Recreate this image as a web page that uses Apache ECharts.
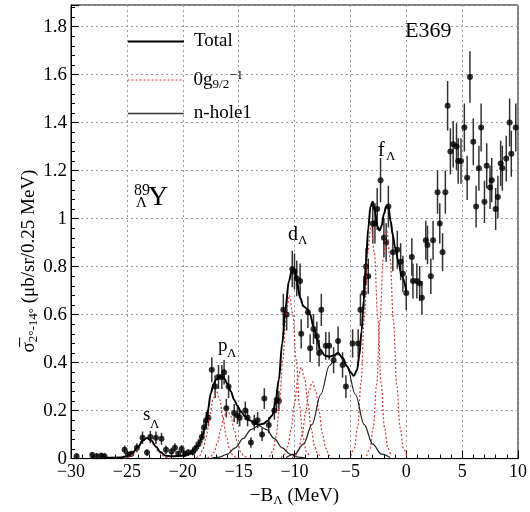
<!DOCTYPE html>
<html>
<head>
<meta charset="utf-8">
<script src="https://cdn.jsdelivr.net/npm/echarts@6/dist/echarts.min.js"></script>
<style>
  html, body { margin: 0; padding: 0; background: #fff; }
  #chart { width: 530px; height: 512px; }
</style>
</head>
<body>
<div id="chart"></div>
<script>
const FONT = 'Liberation Serif, Times New Roman, serif'

// measured spectrum: -B_Lambda (MeV), cross section, stat. error
const pointX = [
  -29.5, -28.1, -27.7, -27.3, -27.0, -25.2, -24.9, -24.6, -24.1, -23.6,
  -23.2, -22.9, -22.4, -21.9, -21.5, -21.0, -20.7, -20.4, -20.1, -19.8,
  -19.5, -19.1, -18.9, -18.6, -18.3, -18.1, -17.9, -17.7, -17.4, -17.1,
  -16.8, -16.5, -16.3, -16.1, -15.9, -15.4, -15.1, -14.9, -14.4, -14.2,
  -13.9, -13.6, -13.3, -12.9, -12.7, -12.3, -11.8, -11.6, -11.4, -11.0,
  -10.7, -10.2, -10.0, -9.8, -9.5, -9.4, -8.8, -8.6, -8.3, -8.0,
  -7.8, -7.6, -7.2, -6.9, -6.5, -6.1, -5.7, -5.4, -4.8, -4.3,
  -4.1, -3.8, -3.6, -3.4, -3.0, -2.8, -2.6, -2.3, -2.0, -1.8,
  -1.6, -1.2, -0.8, -0.5, -0.3, 0.0, 0.5, 0.6, 0.95, 1.2,
  1.4, 1.75, 1.9, 2.2, 2.4, 2.8, 3.0, 3.25, 3.5, 3.7,
  3.95, 4.2, 4.5, 4.65, 4.9, 5.2, 5.45, 5.7, 6.0, 6.25,
  6.5, 6.7, 7.0, 7.2, 7.5, 7.65, 8.0, 8.2, 8.45, 8.6,
  8.95, 9.25, 9.4, 9.8
]
const pointY = [
  0.010, 0.015, 0.010, 0.012, 0.010, 0.037, 0.017, 0.020, 0.045, 0.087,
  0.025, 0.090, 0.087, 0.083, 0.037, 0.030, 0.045, 0.020, 0.040, 0.020,
  0.025, 0.028, 0.040, 0.060, 0.090, 0.130, 0.160, 0.170, 0.370, 0.300,
  0.340, 0.340, 0.360, 0.210, 0.300, 0.190, 0.180, 0.170, 0.200, 0.170,
  0.067, 0.150, 0.160, 0.100, 0.250, 0.140, 0.200, 0.245, 0.240, 0.620,
  0.600, 0.790, 0.780, 0.750, 0.740, 0.520, 0.610, 0.460, 0.540, 0.510,
  0.440, 0.620, 0.470, 0.470, 0.410, 0.490, 0.390, 0.300, 0.480, 0.480,
  0.620, 0.690, 0.800, 0.760, 0.980, 0.980, 1.040, 1.160, 0.920, 0.900,
  1.050, 0.860, 0.870, 0.820, 0.770, 0.690, 0.840, 0.740, 0.740, 0.730,
  0.670, 0.910, 0.890, 0.760, 0.910, 1.110, 0.980, 0.860, 1.110, 1.470,
  1.280, 1.310, 1.300, 1.240, 1.240, 1.380, 1.170, 1.590, 1.320, 1.050,
  1.210, 1.380, 1.070, 1.220, 1.130, 1.160, 1.040, 1.090, 1.230, 1.210,
  1.250, 1.400, 1.270, 1.380
]
const pointErr = [
  0.012, 0.012, 0.012, 0.012, 0.012, 0.018, 0.012, 0.013, 0.019, 0.026,
  0.014, 0.026, 0.026, 0.025, 0.018, 0.015, 0.019, 0.013, 0.017, 0.013,
  0.014, 0.015, 0.017, 0.021, 0.026, 0.031, 0.034, 0.035, 0.052, 0.047,
  0.050, 0.050, 0.051, 0.039, 0.047, 0.037, 0.036, 0.035, 0.038, 0.035,
  0.022, 0.033, 0.034, 0.027, 0.043, 0.032, 0.038, 0.042, 0.042, 0.067,
  0.066, 0.076, 0.075, 0.074, 0.073, 0.061, 0.066, 0.058, 0.062, 0.061,
  0.056, 0.067, 0.058, 0.058, 0.054, 0.060, 0.053, 0.047, 0.059, 0.059,
  0.067, 0.071, 0.076, 0.074, 0.084, 0.084, 0.087, 0.092, 0.082, 0.081,
  0.087, 0.079, 0.079, 0.077, 0.075, 0.071, 0.078, 0.073, 0.073, 0.073,
  0.070, 0.081, 0.080, 0.074, 0.081, 0.090, 0.084, 0.079, 0.090, 0.103,
  0.096, 0.097, 0.097, 0.095, 0.095, 0.100, 0.092, 0.107, 0.098, 0.087,
  0.094, 0.100, 0.088, 0.094, 0.090, 0.092, 0.087, 0.089, 0.094, 0.094,
  0.095, 0.100, 0.096, 0.100
]

// fitted curves
const totalCurve = [
  [-27.0, 0.004], [-25.5, 0.005], [-25.0, 0.010], [-24.5, 0.025], [-24.0, 0.048],
  [-23.6, 0.075], [-23.2, 0.086], [-22.8, 0.075], [-22.4, 0.050], [-22.0, 0.027],
  [-21.5, 0.012], [-21.0, 0.010], [-20.0, 0.012], [-19.4, 0.020], [-19.0, 0.035],
  [-18.6, 0.058], [-18.3, 0.090], [-18.0, 0.130], [-17.75, 0.200], [-17.5, 0.270],
  [-17.25, 0.310], [-17.0, 0.330], [-16.6, 0.345], [-16.3, 0.335], [-16.0, 0.310],
  [-15.7, 0.280], [-15.4, 0.245], [-15.1, 0.220], [-14.8, 0.195], [-14.4, 0.175],
  [-14.0, 0.160], [-13.6, 0.148], [-13.2, 0.142], [-12.8, 0.145], [-12.4, 0.158],
  [-12.0, 0.180], [-11.7, 0.230], [-11.4, 0.330], [-11.1, 0.480], [-10.8, 0.630],
  [-10.5, 0.740], [-10.2, 0.790], [-10.0, 0.790], [-9.8, 0.740], [-9.5, 0.670],
  [-9.2, 0.635], [-8.9, 0.625], [-8.6, 0.600], [-8.3, 0.550], [-8.0, 0.500],
  [-7.7, 0.455], [-7.3, 0.430], [-6.9, 0.425], [-6.5, 0.430], [-6.1, 0.440],
  [-5.7, 0.420], [-5.3, 0.385], [-5.0, 0.360], [-4.7, 0.345], [-4.4, 0.370],
  [-4.2, 0.430], [-4.0, 0.530], [-3.8, 0.660], [-3.6, 0.820], [-3.4, 0.960],
  [-3.2, 1.050], [-3.0, 1.070], [-2.8, 1.030], [-2.6, 0.970], [-2.4, 0.950],
  [-2.2, 0.970], [-2.0, 1.020], [-1.8, 1.050], [-1.6, 1.050], [-1.4, 0.990],
  [-1.2, 0.930], [-1.0, 0.880], [-0.7, 0.820], [-0.4, 0.760], [0.0, 0.700]
]
const sCurve = [[-25.3, 0], [-24.95, 0.004], [-24.6, 0.012], [-24.25, 0.028], [-23.9, 0.052], [-23.55, 0.075], [-23.2, 0.085], [-22.85, 0.075], [-22.5, 0.052], [-22.15, 0.028], [-21.8, 0.012], [-21.45, 0.004], [-21.1, 0]]
const p1Curve = [[-18.8, 0.003], [-18.5, 0.012], [-18.2, 0.038], [-17.9, 0.091], [-17.6, 0.170], [-17.3, 0.247], [-17.0, 0.280], [-16.7, 0.247], [-16.4, 0.170], [-16.1, 0.091], [-15.8, 0.038], [-15.5, 0.012], [-15.2, 0.003]]
const p2Curve = [[-17.8, 0.002], [-17.5, 0.009], [-17.2, 0.027], [-16.9, 0.065], [-16.6, 0.121], [-16.3, 0.177], [-16.0, 0.200], [-15.7, 0.177], [-15.4, 0.121], [-15.1, 0.065], [-14.8, 0.027], [-14.5, 0.009], [-14.2, 0.002]]
const d1Curve = [[-12.25, 0.008], [-11.95, 0.030], [-11.65, 0.092], [-11.35, 0.221], [-11.05, 0.412], [-10.75, 0.600], [-10.45, 0.680], [-10.15, 0.600], [-9.85, 0.412], [-9.55, 0.221], [-9.25, 0.092], [-8.95, 0.030], [-8.65, 0.008]]
const d2Curve = [[-11.2, 0.004], [-10.9, 0.017], [-10.6, 0.051], [-10.3, 0.123], [-10.0, 0.230], [-9.7, 0.335], [-9.4, 0.380], [-9.1, 0.335], [-8.8, 0.230], [-8.5, 0.123], [-8.2, 0.051], [-7.9, 0.017], [-7.6, 0.004]]
const d3Curve = [[-10.2, 0.004], [-9.9, 0.014], [-9.6, 0.043], [-9.3, 0.104], [-9.0, 0.194], [-8.7, 0.282], [-8.4, 0.320], [-8.1, 0.282], [-7.8, 0.194], [-7.5, 0.104], [-7.2, 0.043], [-6.9, 0.014], [-6.6, 0.004]]
const f1Curve = [[-4.95, 0.011], [-4.65, 0.043], [-4.35, 0.131], [-4.05, 0.315], [-3.75, 0.588], [-3.45, 0.856], [-3.15, 0.970], [-2.85, 0.856], [-2.55, 0.588], [-2.25, 0.315], [-1.95, 0.131], [-1.65, 0.043], [-1.35, 0.011]]
const f2Curve = [[-3.55, 0.011], [-3.25, 0.042], [-2.95, 0.129], [-2.65, 0.308], [-2.35, 0.576], [-2.05, 0.838], [-1.75, 0.950], [-1.45, 0.838], [-1.15, 0.576], [-0.85, 0.308], [-0.55, 0.129], [-0.25, 0.042], [0.05, 0.011]]
const nHole1Curve = [[-17.4, 0.002], [-16.7, 0.006], [-16.0, 0.019], [-15.3, 0.045], [-14.6, 0.083], [-13.9, 0.121], [-13.2, 0.137], [-12.5, 0.121], [-11.8, 0.083], [-11.1, 0.045], [-10.4, 0.019], [-9.7, 0.006], [-9.0, 0.002]]
const nHole2Curve = [[-10.75, 0.005], [-9.975, 0.019], [-9.2, 0.060], [-8.425, 0.143], [-7.65, 0.267], [-6.875, 0.388], [-6.1, 0.440], [-5.325, 0.388], [-4.55, 0.267], [-3.775, 0.143], [-3.0, 0.060], [-2.225, 0.019], [-1.45, 0.005]]

const RED = '#cc3a3a'
const chart = echarts.init(document.getElementById('chart'))

function curve(name, data, style) {
  return {
    name,
    type: 'line',
    data,
    symbol: 'none',
    smooth: 0.35,
    smoothMonotone: 'x',
    silent: true,
    z: style.z || 4,
    itemStyle: { color: style.color },
    lineStyle: style
  }
}

const redCurves = [sCurve, p1Curve, p2Curve, d1Curve, d2Curve, d3Curve, f1Curve, f2Curve]
  .map(c => curve('0g', c, { color: RED, width: 1.2, type: [2, 2] }))

const sub = { fontSize: 13, fontFamily: FONT, color: '#000', padding: [9, 0, 0, 0] }
const sup = { fontSize: 13, fontFamily: FONT, color: '#000', padding: [0, 0, 9, 0] }

function legendBox(name, top, lineStyle, formatter) {
  return {
    data: [name],
    left: 127,
    top,
    padding: 0,
    itemWidth: 56,
    itemHeight: 14,
    selectedMode: false,
    lineStyle,
    itemStyle: { opacity: 0 },
    formatter,
    textStyle: {
      fontFamily: FONT, fontSize: 19, color: '#000', padding: [0, 0, 0, 5],
      rich: { sub, sup }
    }
  }
}

function txt(text, x, y, size, align) {
  return {
    type: 'text', x, y, silent: true, z: 10,
    style: { text, fontFamily: FONT, fontSize: size, fill: '#000', align: align || 'left', verticalAlign: 'middle' }
  }
}

const option = {
  animation: false,
  grid: { left: 71, right: 5, top: 5, bottom: 52, show: true, borderColor: '#000', borderWidth: 1 },
  legend: [
    legendBox('Total', 32, { color: '#000', width: 2, type: 'solid' }),
    legendBox('0g', 69, { color: RED, width: 1.2, type: [2, 2] }, () => '0g{sub|9/2}{sup|\u22121}'),
    legendBox('n-hole1', 104, { color: '#333', width: 1.6, type: 'solid' })
  ],
  xAxis: {
    type: 'value', min: -30, max: 10, interval: 5,
    name: '\u2212B{sub|\u039b} (MeV)', nameLocation: 'middle', nameGap: 24,
    nameTextStyle: { fontFamily: FONT, fontSize: 19, color: '#000', rich: { sub } },
    axisLine: { show: true, onZero: false, lineStyle: { color: '#000', width: 1 } },
    axisTick: { inside: true, length: 8, lineStyle: { color: '#000' } },
    minorTick: { show: true, splitNumber: 5, length: 4, lineStyle: { color: '#000' } },
    axisLabel: {
      margin: 5, fontFamily: FONT, fontSize: 18, color: '#000',
      formatter: v => String(v).replace('-', '\u2212')
    },
    splitLine: { show: true, lineStyle: { color: '#9a9a9a', width: 1, type: [2, 3] } }
  },
  yAxis: {
    type: 'value', min: 0, max: 1.89, interval: 0.2,
    axisLine: { show: true, onZero: false, lineStyle: { color: '#000', width: 1 } },
    axisTick: { inside: true, length: 8, lineStyle: { color: '#000' } },
    minorTick: { show: true, splitNumber: 5, length: 4, lineStyle: { color: '#000' } },
    axisLabel: {
      margin: 4, fontFamily: FONT, fontSize: 19, color: '#000', showMaxLabel: false,
      formatter: v => String(Math.round(v * 10) / 10)
    },
    splitLine: { show: true, lineStyle: { color: '#9a9a9a', width: 1, type: [2, 3] } }
  },
  series: [
    {
      type: 'custom',
      name: 'err',
      data: pointX.map((x, i) => [x, pointY[i], pointErr[i]]),
      encode: { x: 0, y: 1 },
      clip: true,
      silent: true,
      z: 2,
      renderItem(params, api) {
        const x = api.value(0), y = api.value(1), e = api.value(2)
        const lo = api.coord([x, Math.max(0, y - e)])
        const hi = api.coord([x, y + e])
        return {
          type: 'line',
          shape: { x1: lo[0], y1: lo[1], x2: hi[0], y2: hi[1] },
          style: { stroke: '#333', lineWidth: 1.5 }
        }
      }
    },
    {
      type: 'scatter',
      name: 'data',
      data: pointX.map((x, i) => [x, pointY[i]]),
      symbolSize: 6,
      itemStyle: { color: '#000' },
      silent: true,
      z: 3
    },
    ...redCurves,
    curve('n-hole1', nHole1Curve, { color: '#222', width: 1.2 }),
    curve('n-hole1', nHole2Curve, { color: '#222', width: 1.2 }),
    curve('Total', totalCurve, { color: '#000', width: 2, z: 5 })
  ],
  graphic: [
    {
      type: 'text', x: 29, y: 261, rotation: Math.PI / 2, silent: true,
      style: {
        text: '{b|\u03c3\u0305}{s|2\u00b0-14\u00b0} (\u03bcb/sr/0.25 MeV)',
        fontFamily: FONT, fontSize: 19, fill: '#000', align: 'center', verticalAlign: 'middle',
        rich: {
          b: { fontFamily: FONT, fontSize: 19, fill: '#000' },
          s: { fontFamily: FONT, fontSize: 13, fill: '#000', padding: [9, 0, 0, 0] }
        }
      }
    },
    txt('E369', 405, 31, 22),
    txt('89', 134, 191, 16),
    txt('\u039b', 136, 203, 15),
    txt('Y', 148, 198, 28),
    txt('s', 143, 415, 19),
    txt('\u039b', 150, 425, 13),
    txt('p', 218, 346, 19),
    txt('\u039b', 227, 354, 13),
    txt('d', 288, 235, 20),
    txt('\u039b', 298, 241, 13),
    txt('f', 378, 151, 20),
    txt('\u039b', 386, 157, 13)
  ]
}

chart.setOption(option)
</script>
</body>
</html>
